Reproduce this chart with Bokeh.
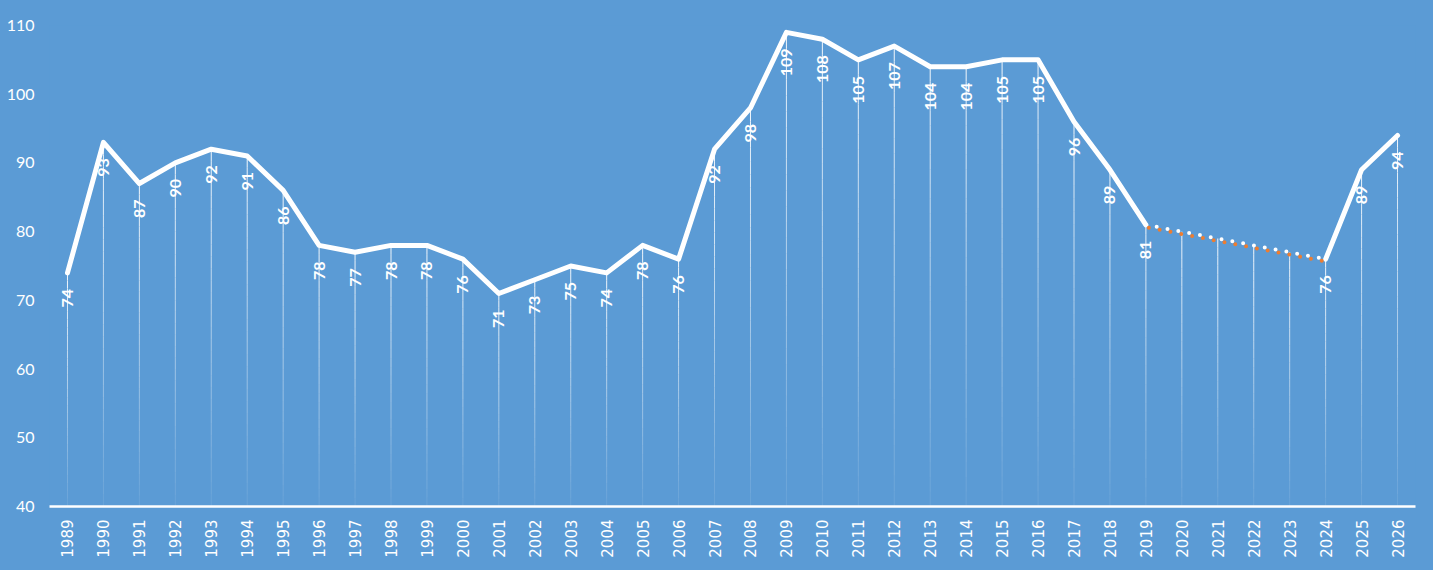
import numpy as np
from bokeh.plotting import figure
from bokeh.models import ColumnDataSource, FactorRange, Range1d, FixedTicker
from bokeh.core.properties import value
from bokeh.embed import file_html
from bokeh.resources import INLINE

# ---- data ----
years = ["1989", "1990", "1991", "1992", "1993", "1994", "1995", "1996", "1997", "1998",
         "1999", "2000", "2001", "2002", "2003", "2004", "2005", "2006", "2007", "2008",
         "2009", "2010", "2011", "2012", "2013", "2014", "2015", "2016", "2017", "2018",
         "2019", "2020", "2021", "2022", "2023", "2024", "2025", "2026"]
values = [74, 93, 87, 90, 92, 91, 86, 78, 77, 78,
          78, 76, 71, 73, 75, 74, 78, 76, 92, 98,
          109, 108, 105, 107, 104, 104, 105, 105, 96, 89,
          81, 80, 79, 78, 77, 76, 89, 94]
unlabeled_years = ["2020", "2021", "2022", "2023"]
dotted_years = ["2019", "2020", "2021", "2022", "2023", "2024"]
y_ticks = [40, 50, 60, 70, 80, 90, 100, 110]
y_min, y_max = 40, 110

BG = "#5B9BD5"
WHITE = "#FFFFFF"
ORANGE = "#ED7D31"

p = figure(width=1433, height=570, output_backend="svg", toolbar_location=None,
           x_range=FactorRange(factors=years, range_padding=0),
           y_range=Range1d(y_min, y_max),
           min_border_left=49, min_border_right=18, min_border_top=25, min_border_bottom=64)
p.background_fill_color = BG
p.border_fill_color = BG
p.outline_line_color = None
p.xgrid.grid_line_color = None
p.ygrid.grid_line_color = None

# slightly shifted range so the orange dotted series sits just below the white dots
shift = 0.35
p.extra_y_ranges = {"shadow": Range1d(y_min + shift, y_max + shift)}

# drop lines with a fade toward the axis
N = 30
sx, sy0, sy1, sa = [], [], [], []
for yr, v in zip(years, values):
    for k in range(N):
        f0, f1 = k / N, (k + 1) / N
        sx.append(yr)
        sy0.append(y_min + (v - y_min) * f0)
        sy1.append(y_min + (v - y_min) * f1)
        sa.append(0.08 + 0.85 * (k + 0.5) / N)
p.segment(x0=sx, y0=sy0, x1=sx, y1=sy1, line_color=WHITE, line_width=1, line_alpha=sa)

# main line: solid parts
i0 = years.index(dotted_years[0])
i1 = years.index(dotted_years[-1])
p.line(years[:i0 + 1], values[:i0 + 1], line_color=WHITE, line_width=5,
       line_join="round", line_cap="round")
p.line(years[i1:], values[i1:], line_color=WHITE, line_width=5,
       line_join="round", line_cap="round")

# dotted forecast section
dv = [values[years.index(y)] for y in dotted_years]
p.line(dotted_years, dv, line_color=ORANGE, line_width=4, line_dash="0 11",
       line_dash_offset=-3, line_cap="round", y_range_name="shadow")
p.line(dotted_years, dv, line_color=WHITE, line_width=4, line_dash="0 11",
       line_cap="round")

# data labels
lab_x = [y for y in years if y not in unlabeled_years]
lab_v = [v for y, v in zip(years, values) if y not in unlabeled_years]
src = ColumnDataSource(dict(x=lab_x, y=lab_v, t=[str(v) for v in lab_v]))
p.text(x="x", y="y", text="t", source=src, angle=np.pi / 2, text_align="right",
       text_baseline="middle", y_offset=16, text_color=WHITE,
       text_font=value("Lato"), text_font_size="16px", text_font_style="bold")

# axes
p.yaxis.ticker = FixedTicker(ticks=y_ticks)
p.yaxis.axis_line_color = None
p.yaxis.major_tick_line_color = None
p.yaxis.major_tick_out = 0
p.yaxis.minor_tick_line_color = None
p.yaxis.minor_tick_out = 0
p.yaxis.major_label_text_color = WHITE
p.yaxis.major_label_text_font = "Lato"
p.yaxis.major_label_text_font_size = "16px"
p.yaxis.major_label_standoff = 15

p.xaxis.axis_line_color = WHITE
p.xaxis.axis_line_width = 2.5
p.xaxis.major_tick_line_color = None
p.xaxis.major_tick_out = 0
p.xaxis.minor_tick_line_color = None
p.xaxis.minor_tick_out = 0
p.xaxis.major_label_orientation = np.pi / 2
p.xaxis.major_label_text_color = WHITE
p.xaxis.major_label_text_font = "DejaVu Sans"
p.xaxis.major_label_text_font_size = "15px"
p.xaxis.major_label_standoff = 13

html = file_html(p, INLINE)
html = html.replace("</head>", "<style>body{background:#5B9BD5;}</style></head>", 1)
open("out.html", "w").write(html)
